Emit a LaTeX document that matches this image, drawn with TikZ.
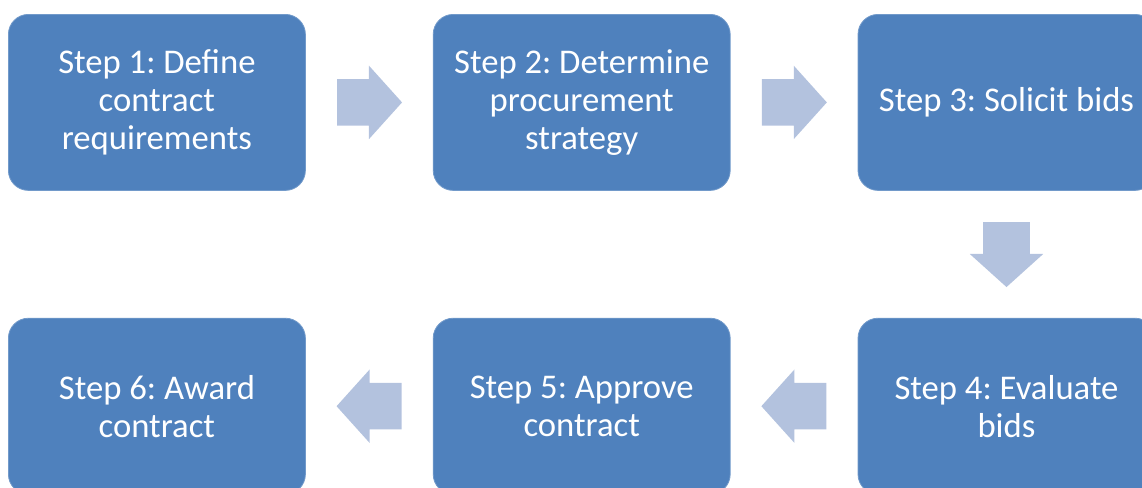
\documentclass[tikz,border=0pt]{standalone}
\usepackage{fontspec}
\setmainfont{Carlito}
\frenchspacing
\usepackage{tikz}
\usetikzlibrary{positioning}
\usetikzlibrary{calc}
\usetikzlibrary{shapes.arrows}
\definecolor{stepblue}{RGB}{79,129,189}
\definecolor{arrowblue}{RGB}{179,194,222}
\tikzset{stepbox/.style={shape=rectangle,rounded corners=15pt,fill=stepblue,draw=stepblue!80!white,line width=0.6pt,text=white,align=center,minimum width=222.75pt,minimum height=132pt,inner sep=0pt,font=\fontsize{26}{28.5}\selectfont}}
\tikzset{flowarrow/.style={single arrow,fill=arrowblue,draw=none,anchor=tail,minimum height=48.75pt,inner xsep=0pt,inner ysep=17.25pt,single arrow head extend=10.1pt,single arrow tip angle=96}}

\begin{document}
\begin{tikzpicture}

	\useasboundingbox (0,0) rectangle (856.5pt,-365.25pt);
	\clip (0,0) rectangle (856.5pt,-365.25pt);

	% top row
	\node[stepbox,anchor=north west] (s1) at (6pt,-10.5pt) {Step 1: Define\\contract\\requirements};
	\node[stepbox,right=95.25pt of s1] (s2) {Step 2: Determine\\procurement\\strategy};
	\node[stepbox,right=95.25pt of s2] (s3) {Step 3: Solicit bids};

	% bottom row
	\node[stepbox,below=95.25pt of s3] (s4) {Step 4: Evaluate\\bids};
	\node[stepbox,left=95.25pt of s4] (s5) {Step 5: Approve\\contract};
	\node[stepbox,left=95.25pt of s5] (s6) {Step 6: Award\\contract};

	% arrows between the steps
	\node[flowarrow] (a12) at ($(s1.east)!.5!(s2.west)+(-24.4pt,0)$) {};
	\node[flowarrow] (a23) at ($(s2.east)!.5!(s3.west)+(-24.4pt,0)$) {};
	\node[flowarrow,rotate=-90] (a34) at ($(s3.south)!.5!(s4.north)+(0,24.4pt)$) {};
	\node[flowarrow,rotate=180] (a45) at ($(s4.west)!.5!(s5.east)+(24.4pt,0)$) {};
	\node[flowarrow,rotate=180] (a56) at ($(s5.west)!.5!(s6.east)+(24.4pt,0)$) {};

\end{tikzpicture}
\end{document}
